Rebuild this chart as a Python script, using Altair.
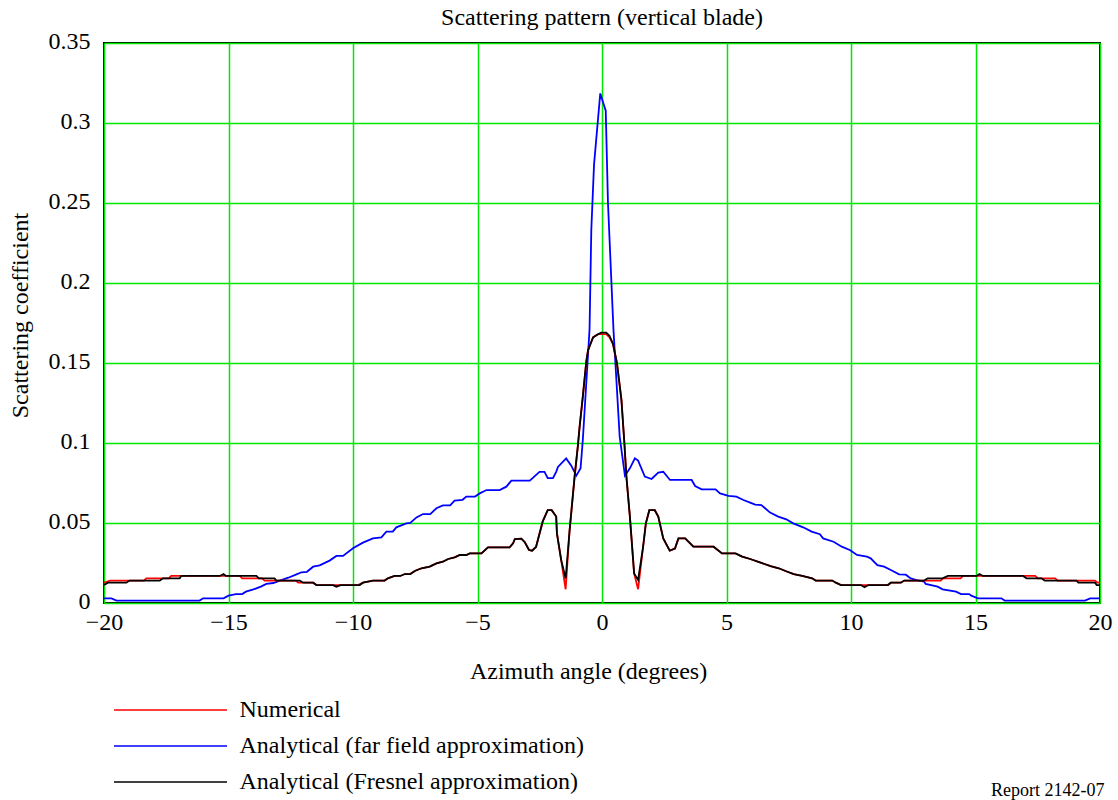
import altair as alt
import pandas as pd

FONT = "Liberation Serif"

# ---- Analytical (far field approximation) : blue ----
az_far = [-20, -19.7, -19.5, -16.16, -16.02, -15.2, -15.0, -14.7, -14.45, -14.3, -14.0, -13.7,
          -13.48, -13.2, -12.94, -12.6, -12.27, -12.07, -11.85, -11.6, -11.34, -10.94, -10.67,
          -10.4, -10.0, -9.6, -9.2, -8.86, -8.66, -8.4, -8.26, -7.86, -7.7, -7.45, -7.19, -6.9,
          -6.65, -6.39, -6.1, -5.92, -5.6, -5.45, -5.1, -4.91, -4.64, -4.11, -3.84, -3.64, -2.9,
          -2.51, -2.31, -2.18, -1.97, -1.84, -1.77, -1.44, -1.24, -1.03, -0.86, -0.77, -0.5,
          -0.43, -0.32, -0.07, 0.15, 0.24, 0.46, 0.71, 0.92, 1.12, 1.32, 1.45, 1.72, 1.99, 2.26,
          2.46, 2.73, 3.6, 3.74, 4.0, 4.56, 4.74, 5.08, 5.4, 5.68, 5.95, 6.15, 6.4, 6.55, 6.75,
          7.08, 7.4, 7.68, 8.08, 8.42, 8.75, 8.88, 9.3, 9.63, 9.97, 10.24, 10.64, 10.79, 11.06,
          11.33, 11.6, 11.93, 12.2, 12.4, 12.6, 12.94, 13.0, 13.48, 13.68, 14.22, 14.42, 14.75,
          14.83, 15.1, 16.04, 16.17, 19.4, 19.6, 20]
val_far = [0.0029, 0.0029, 0.0015, 0.0015, 0.0029, 0.0029, 0.0046, 0.0056, 0.0056, 0.0071, 0.0085,
           0.0102, 0.0119, 0.0125, 0.014, 0.0158, 0.0179, 0.0192, 0.0195, 0.0227, 0.0235, 0.0265,
           0.0294, 0.0294, 0.0342, 0.0377, 0.0404, 0.041, 0.0446, 0.0446, 0.0473, 0.0498, 0.050,
           0.0535, 0.0556, 0.0556, 0.0592, 0.061, 0.061, 0.064, 0.0645, 0.0665, 0.0665, 0.0685,
           0.0706, 0.0706, 0.0727, 0.0765, 0.0765, 0.082, 0.082, 0.078, 0.078, 0.082, 0.085,
           0.0904, 0.086, 0.0796, 0.0842, 0.102, 0.171, 0.233, 0.274, 0.3185, 0.3077, 0.25,
           0.171, 0.104, 0.0796, 0.0842, 0.0904, 0.089, 0.079, 0.0775, 0.0815, 0.082, 0.0769,
           0.0769, 0.0731, 0.071, 0.071, 0.0685, 0.0669, 0.0665, 0.0644, 0.0627, 0.0615, 0.0612,
           0.0592, 0.0565, 0.054, 0.0523, 0.0498, 0.0473, 0.0446, 0.043, 0.0404, 0.0383, 0.0352,
           0.033, 0.030, 0.029, 0.0279, 0.0237, 0.0227, 0.0206, 0.0179, 0.0177, 0.0154, 0.0144,
           0.0133, 0.0119, 0.0102, 0.0085, 0.0071, 0.0056, 0.0056, 0.0046, 0.0029, 0.0029,
           0.0015, 0.0015, 0.0029, 0.0029]

# ---- Analytical (Fresnel approximation) : black ----
az_fres = [-20, -19.84, -19.1, -18.97, -17.76, -17.63, -16.96, -16.9, -15.35, -15.2, -15.1, -13.88,
           -13.78, -13.15, -13.08, -12.14, -12.0, -11.6, -11.47, -10.8, -10.67, -10.5, -9.73, -9.6,
           -9.2, -8.73, -8.6, -8.33, -8.1, -7.92, -7.7, -7.52, -7.25, -6.92, -6.65, -6.39, -6.18,
           -5.92, -5.71, -5.45, -5.31, -4.84, -4.58, -3.71, -3.57, -3.5, -3.24, -3.1, -2.93, -2.81,
           -2.65, -2.38, -2.18, -2.02, -1.84, -1.81, -1.64, -1.46, -1.3, -1.1, -0.97, -0.9, -0.77,
           -0.63, -0.56, -0.36, -0.16, -0.03, 0.17, 0.3, 0.44, 0.6, 0.78, 0.89, 0.98, 1.12, 1.29,
           1.45, 1.65, 1.76, 1.9, 2.12, 2.26, 2.46, 2.72, 2.93, 3.07, 3.34, 3.67, 4.48, 4.82, 5.36,
           5.63, 5.95, 6.37, 6.77, 7.1, 7.37, 7.7, 8.04, 8.44, 8.58, 9.25, 9.39, 9.6, 10.4, 10.54,
           10.7, 11.47, 11.6, 12.0, 12.14, 12.94, 13.08, 13.68, 13.89, 15.05, 15.16, 15.3, 16.91,
           17.05, 17.65, 17.78, 19.06, 19.13, 19.8, 19.87, 20]
val_fres = [0.0112, 0.0127, 0.0127, 0.014, 0.014, 0.0154, 0.0154, 0.0169, 0.0169, 0.0181, 0.0169,
            0.0169, 0.0154, 0.0154, 0.014, 0.014, 0.0127, 0.0127, 0.0112, 0.0112, 0.0102, 0.0112,
            0.0112, 0.0127, 0.014, 0.014, 0.0154, 0.0169, 0.0169, 0.0181, 0.0181, 0.020, 0.0217,
            0.0227, 0.0248, 0.0258, 0.0275, 0.0285, 0.030, 0.030, 0.031, 0.031, 0.0348, 0.0348,
            0.0373, 0.040, 0.0402, 0.038, 0.0331, 0.0327, 0.035, 0.051, 0.058, 0.058, 0.054, 0.0435,
            0.0269, 0.0154, 0.0456, 0.079, 0.098, 0.110, 0.129, 0.151, 0.158, 0.166, 0.168, 0.169,
            0.169, 0.167, 0.162, 0.150, 0.127, 0.102, 0.079, 0.054, 0.0185, 0.0144, 0.035, 0.0496,
            0.058, 0.058, 0.054, 0.0404, 0.0327, 0.034, 0.0404, 0.0404, 0.0352, 0.0352, 0.031,
            0.031, 0.029, 0.0275, 0.0252, 0.0231, 0.0217, 0.020, 0.0181, 0.0169, 0.0154, 0.014,
            0.014, 0.0127, 0.0112, 0.0112, 0.0098, 0.0112, 0.0112, 0.0127, 0.0127, 0.014, 0.014,
            0.0154, 0.0154, 0.0169, 0.0169, 0.0181, 0.0169, 0.0169, 0.0154, 0.0154, 0.014, 0.014,
            0.0127, 0.0127, 0.0112, 0.0112]

# ---- Numerical : red ----
az_num = [-20, -19.75, -18.4, -18.3, -17.4, -17.3, -14.55, -14.45, -13.65, -13.55, -12.3, -12.2,
          -11.6, -11.47, -9.8, -9.6, -9.2, -8.73, -8.6, -8.33, -8.1, -7.92, -7.7, -7.52, -7.25,
          -6.92, -6.65, -6.39, -6.18, -5.92, -5.71, -5.45, -5.31, -4.84, -4.58, -3.71, -3.57, -3.5,
          -3.24, -3.1, -2.93, -2.81, -2.65, -2.38, -2.18, -2.02, -1.84, -1.81, -1.64, -1.46, -1.3,
          -1.1, -0.97, -0.9, -0.77, -0.63, -0.56, -0.36, -0.16, -0.03, 0.17, 0.3, 0.44, 0.6, 0.78,
          0.89, 0.98, 1.12, 1.29, 1.45, 1.65, 1.76, 1.9, 2.12, 2.26, 2.46, 2.72, 2.93, 3.07, 3.34,
          3.67, 4.48, 4.82, 5.36, 5.63, 5.95, 6.37, 6.77, 7.1, 7.37, 7.7, 8.04, 8.44, 8.58, 9.25,
          9.39, 9.6, 11.5, 11.6, 12.0, 12.14, 13.6, 13.7, 14.4, 14.5, 17.4, 17.5, 18.2, 18.3, 19.8,
          19.9, 20]
val_num = [0.0127, 0.014, 0.014, 0.0154, 0.0154, 0.0169, 0.0169, 0.0154, 0.0154, 0.014, 0.014,
           0.0127, 0.0127, 0.0112, 0.0112, 0.0127, 0.014, 0.014, 0.0154, 0.0169, 0.0169, 0.0181,
           0.0181, 0.020, 0.0217, 0.0227, 0.0248, 0.0258, 0.0275, 0.0285, 0.030, 0.030, 0.031,
           0.031, 0.0348, 0.0348, 0.0373, 0.040, 0.0402, 0.038, 0.0331, 0.0327, 0.035, 0.051,
           0.058, 0.058, 0.054, 0.0435, 0.0269, 0.0086, 0.0456, 0.079, 0.098, 0.110, 0.129, 0.151,
           0.158, 0.166, 0.168, 0.168, 0.168, 0.166, 0.162, 0.150, 0.127, 0.102, 0.079, 0.054,
           0.0185, 0.0086, 0.035, 0.0496, 0.058, 0.058, 0.054, 0.0404, 0.0327, 0.034, 0.0404,
           0.0404, 0.0352, 0.0352, 0.031, 0.031, 0.029, 0.0275, 0.0252, 0.0231, 0.0217, 0.020,
           0.0181, 0.0169, 0.0154, 0.014, 0.014, 0.0127, 0.0112, 0.0112, 0.0127, 0.0127, 0.014,
           0.014, 0.0154, 0.0154, 0.0169, 0.0169, 0.0154, 0.0154, 0.014, 0.014, 0.0127, 0.0127]

series_names = ["Numerical", "Analytical (far field approximation)", "Analytical (Fresnel approximation)"]
series_colors = ["#ff0000", "#0000ff", "#000000"]
x_ticks = [-20, -15, -10, -5, 0, 5, 10, 15, 20]
y_ticks = [0, 0.05, 0.1, 0.15, 0.2, 0.25, 0.3, 0.35]

frames = []
for name, xs, ys in [(series_names[0], az_num, val_num),
                     (series_names[1], az_far, val_far),
                     (series_names[2], az_fres, val_fres)]:
    frames.append(pd.DataFrame({"az": xs, "val": ys, "series": name}))
df = pd.concat(frames, ignore_index=True)

GRID = "#00e800"
common_axis = dict(grid=True, gridColor=GRID, gridWidth=1.5, gridOpacity=1, domain=False,
                   ticks=False, tickSize=0, labelFlush=False,
                   labelFont=FONT, labelFontSize=24, labelColor="black",
                   titleFont=FONT, titleFontSize=24, titleFontWeight="normal", titleColor="black")

color = alt.Color(
    "series:N",
    scale=alt.Scale(domain=series_names, range=series_colors),
    legend=alt.Legend(
        title=None, orient="none", legendX=54.5, legendY=655, direction="vertical",
        symbolType="M-5.65,0H5.65", symbolSize=400, symbolStrokeWidth=1.5,
        labelFont=FONT, labelFontSize=24, labelColor="black", labelOffset=57,
        rowPadding=12, padding=0, labelLimit=0,
    ),
)
x = alt.X("az:Q", scale=alt.Scale(domain=[-20, 20], nice=False),
          axis=alt.Axis(values=x_ticks, labelPadding=7, titleX=484, titleY=68,
                        titleAlign="center", titleBaseline="middle", **common_axis),
          title="Azimuth angle (degrees)")
y = alt.Y("val:Q", scale=alt.Scale(domain=[0, 0.35], nice=False),
          axis=alt.Axis(values=y_ticks, format=".2~f", labelPadding=14, labelOffset=-2,
                        titleX=-84, titleY=272,
                        titleAngle=-90, titleAlign="center", titleBaseline="middle", **common_axis),
          title="Scattering coefficient")

base = alt.Chart(df).mark_line(strokeWidth=1.8, clip=True).encode(x=x, y=y, color=color)
blue = base.transform_filter(alt.datum.series == series_names[1])
red = base.transform_filter(alt.datum.series == series_names[0])
black = base.transform_filter(alt.datum.series == series_names[2])

note = alt.Chart(pd.DataFrame({"t": ["Report 2142-07"]})).mark_text(
    align="left", baseline="alphabetic", fontSize=18, font=FONT, color="black"
).encode(x=alt.value(887), y=alt.value(753), text="t:N")

chart = alt.layer(blue, red, black, note).properties(
    width=996, height=560,
    autosize=alt.AutoSizeParams(type="none"),
    padding={"left": 104, "top": 43, "right": 18, "bottom": 197},
    title=alt.TitleParams("Scattering pattern (vertical blade)", font=FONT, fontSize=24,
                          fontWeight="normal", color="black", anchor="middle", offset=-1),
).configure_view(stroke="black", strokeWidth=2).configure_axis(
    grid=True, gridColor=GRID, gridOpacity=1, labelFont=FONT, titleFont=FONT,
)

chart.save("out.html", embed_options={"renderer": "svg", "actions": False})
